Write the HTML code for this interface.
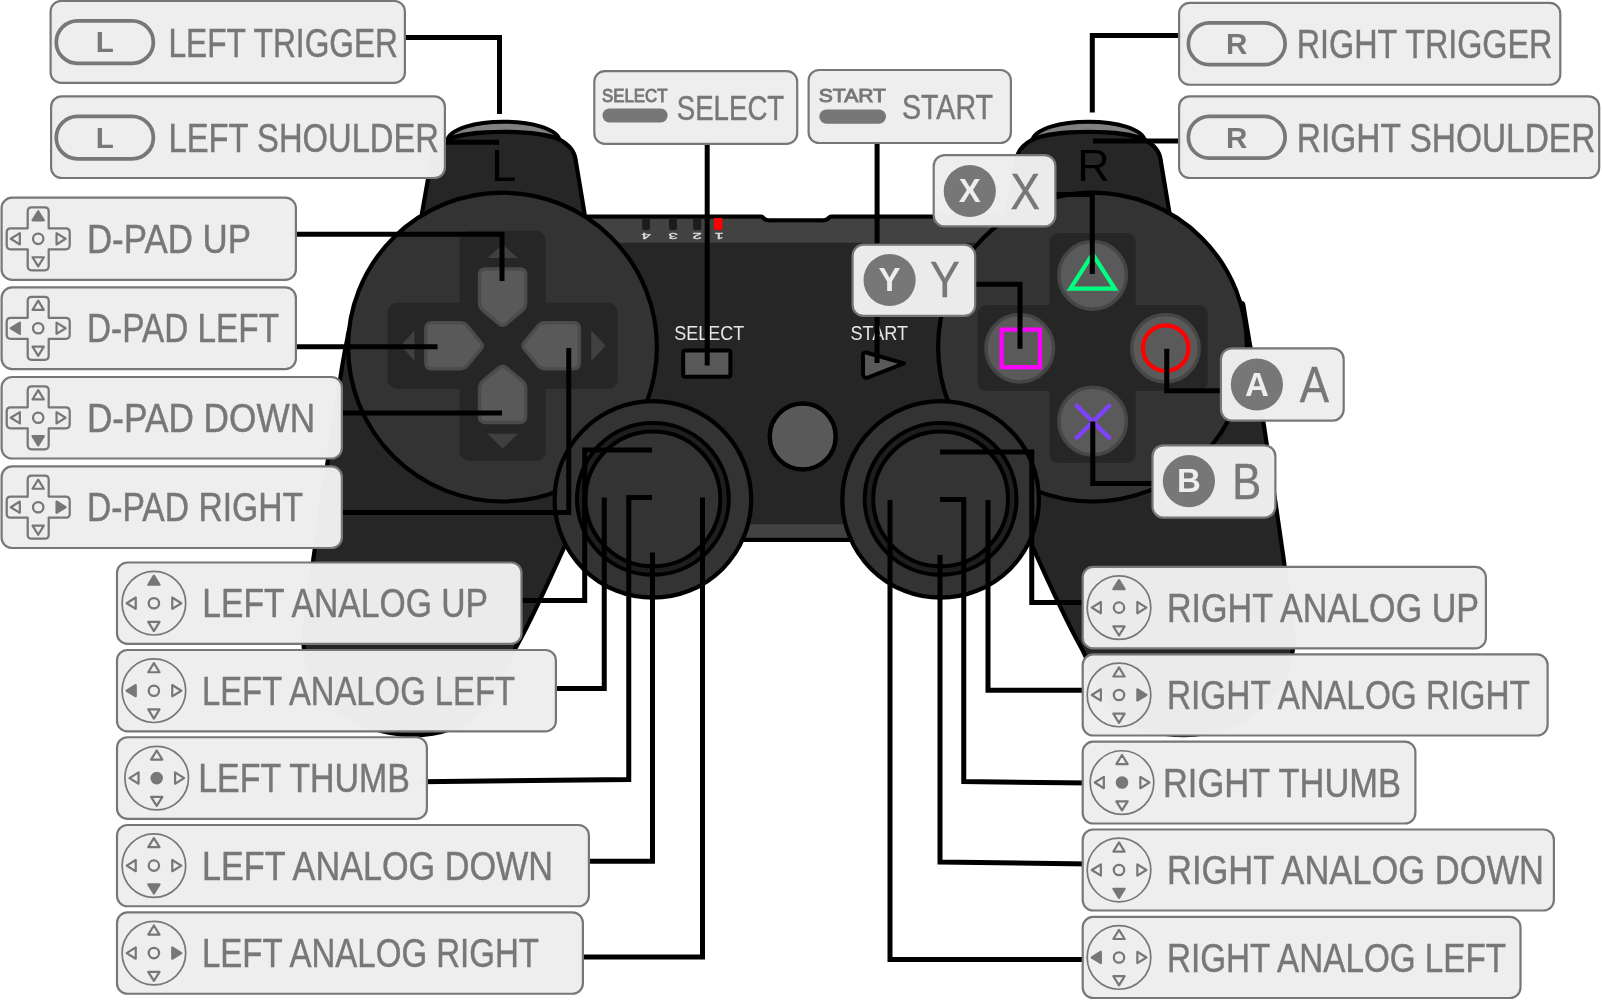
<!DOCTYPE html>
<html><head><meta charset="utf-8"><title>Gamepad mapping</title>
<style>html,body{margin:0;padding:0;background:#ffffff;overflow:hidden;}svg{display:block;will-change:transform;}</style>
</head><body>
<svg width="1602" height="1000" viewBox="0 0 1602 1000">
<rect width="1602" height="1000" fill="#ffffff"/>
<g id="pad">
<path d="M 447,141 C 452,115.3 555,115.3 560,141 Z" fill="#808080" stroke="#000" stroke-width="4" stroke-linejoin="round"/>
<path d="M 1032,141 C 1037,115.3 1140,115.3 1145,141 Z" fill="#808080" stroke="#000" stroke-width="4" stroke-linejoin="round"/>
<path d="M 400,250 C 395,256.67 377.83,277.5 370,290 C 362.17,302.5 356.47,316.67 353,325 C 349.53,333.33 350.75,332.5 349.2,340 C 347.65,347.5 346.9,350 343.7,370 C 340.5,390 334.62,429.17 330,460 C 325.38,490.83 320.12,525.42 316,555 C 311.88,584.58 307.08,623.75 305.3,637.5 A 107.2 95.6 0 0 0 412.5,733.1 C 490,733.1 499.3,672.1 514.3,646.1 Q 530.7,617.1 563.8,543.1 L 625,470 L 480,260 Z" fill="none" stroke="#000" stroke-width="8.4" stroke-linejoin="round"/>
<path d="M 1150,250 L 1180,305 L 1241.2,305 C 1242.38,312 1246.28,336.17 1248.3,347 C 1250.32,357.83 1250.18,351.17 1253.3,370 C 1256.42,388.83 1262.38,429.17 1267,460 C 1271.62,490.83 1276.88,525.42 1281,555 C 1285.12,584.58 1289.92,623.75 1291.7,637.5 A 107.2 95.6 0 0 1 1184.5,733.1 C 1107,733.1 1097.7,672.1 1082.7,646.1 Q 1066.3,617.1 1033.2,543.1 L 972,470 L 1117,260 Z" fill="none" stroke="#000" stroke-width="8.4" stroke-linejoin="round"/>
<path d="M 424,214 L 433.5,160 C 434.5,152 440,146 448.5,141.5 C 470,131.5 537,131.5 558.5,141.5 C 567,146 572.5,152 573.5,160 L 582.5,214 Z" fill="none" stroke="#000" stroke-width="8.4" stroke-linejoin="round"/>
<path d="M 1009,214 L 1018.5,160 C 1019.5,152 1025,146 1033.5,141.5 C 1055,131.5 1122,131.5 1143.5,141.5 C 1152,146 1157.5,152 1158.5,160 L 1167.5,214 Z" fill="none" stroke="#000" stroke-width="8.4" stroke-linejoin="round"/>
<path d="M 470,218.7 L 761,218.7 Q 764,222.5 769,222.5 L 823,222.5 Q 828,222.5 831,218.7 L 1125,218.7 L 1125,537.7 L 470,537.7 Z" fill="none" stroke="#000" stroke-width="8.4" stroke-linejoin="round"/>
<path d="M 400,250 C 395,256.67 377.83,277.5 370,290 C 362.17,302.5 356.47,316.67 353,325 C 349.53,333.33 350.75,332.5 349.2,340 C 347.65,347.5 346.9,350 343.7,370 C 340.5,390 334.62,429.17 330,460 C 325.38,490.83 320.12,525.42 316,555 C 311.88,584.58 307.08,623.75 305.3,637.5 A 107.2 95.6 0 0 0 412.5,733.1 C 490,733.1 499.3,672.1 514.3,646.1 Q 530.7,617.1 563.8,543.1 L 625,470 L 480,260 Z" fill="#262626"/>
<path d="M 1150,250 L 1180,305 L 1241.2,305 C 1242.38,312 1246.28,336.17 1248.3,347 C 1250.32,357.83 1250.18,351.17 1253.3,370 C 1256.42,388.83 1262.38,429.17 1267,460 C 1271.62,490.83 1276.88,525.42 1281,555 C 1285.12,584.58 1289.92,623.75 1291.7,637.5 A 107.2 95.6 0 0 1 1184.5,733.1 C 1107,733.1 1097.7,672.1 1082.7,646.1 Q 1066.3,617.1 1033.2,543.1 L 972,470 L 1117,260 Z" fill="#262626"/>
<path d="M 424,214 L 433.5,160 C 434.5,152 440,146 448.5,141.5 C 470,131.5 537,131.5 558.5,141.5 C 567,146 572.5,152 573.5,160 L 582.5,214 Z" fill="#262626"/>
<path d="M 1009,214 L 1018.5,160 C 1019.5,152 1025,146 1033.5,141.5 C 1055,131.5 1122,131.5 1143.5,141.5 C 1152,146 1157.5,152 1158.5,160 L 1167.5,214 Z" fill="#262626"/>
<path d="M 470,218.7 L 761,218.7 Q 764,222.5 769,222.5 L 823,222.5 Q 828,222.5 831,218.7 L 1125,218.7 L 1125,537.7 L 470,537.7 Z" fill="#262626"/>
<path d="M 470,218.7 L 761,218.7 Q 764,222.5 769,222.5 L 823,222.5 Q 828,222.5 831,218.7 L 1125,218.7 V 242.8 H 470 Z" fill="#424242"/>
<rect x="700" y="524.3" width="200" height="13.4" fill="#424242"/>
<path d="M 642.2,218 V 228 Q 642.2,230 644.2,230 H 648 Q 650,230 650,228 V 218 Z" fill="#1c1c1c"/>
<path d="M 669,218 V 228 Q 669,230 671,230 H 674.9 Q 676.9,230 676.9,228 V 218 Z" fill="#1c1c1c"/>
<path d="M 693.1,218 V 228 Q 693.1,230 695.1,230 H 699.25 Q 701.25,230 701.25,228 V 218 Z" fill="#1c1c1c"/>
<path d="M 714,218 V 228 Q 714,230 716,230 H 720.4 Q 722.4,230 722.4,228 V 218 Z" fill="#ff0000"/>
<text transform="translate(646.1,232.6) rotate(180) scale(1.9,0.95)" x="0" y="0" font-family="Liberation Sans, sans-serif" font-size="8.8" font-weight="normal" fill="#dddddd" stroke="#dddddd" stroke-width="0.35" text-anchor="middle">4</text>
<text transform="translate(673,232.6) rotate(180) scale(1.9,0.95)" x="0" y="0" font-family="Liberation Sans, sans-serif" font-size="8.8" font-weight="normal" fill="#dddddd" stroke="#dddddd" stroke-width="0.35" text-anchor="middle">3</text>
<text transform="translate(697.2,232.6) rotate(180) scale(1.9,0.95)" x="0" y="0" font-family="Liberation Sans, sans-serif" font-size="8.8" font-weight="normal" fill="#dddddd" stroke="#dddddd" stroke-width="0.35" text-anchor="middle">2</text>
<text transform="translate(719,232.6) rotate(180) scale(1.9,0.95)" x="0" y="0" font-family="Liberation Sans, sans-serif" font-size="8.8" font-weight="normal" fill="#dddddd" stroke="#dddddd" stroke-width="0.35" text-anchor="middle">1</text>
<text x="503.75" y="180.6" font-family="Liberation Sans, sans-serif" font-size="45" fill="#000" text-anchor="middle">L</text>
<text x="1093.4" y="180.6" font-family="Liberation Sans, sans-serif" font-size="45" fill="#000" text-anchor="middle">R</text>
<circle cx="502.5" cy="347.1" r="154.4" fill="#333333" stroke="#000" stroke-width="4.2"/>
<circle cx="1092.5" cy="347.1" r="154.4" fill="#333333" stroke="#000" stroke-width="4.2"/>
<rect x="459.6" y="230.75" width="86" height="230" rx="9" fill="#262626"/><rect x="387.6" y="302.75" width="230" height="86" rx="9" fill="#262626"/>
<rect x="1049.6" y="233.1" width="86" height="230" rx="9" fill="#262626"/><rect x="977.6" y="305.1" width="230" height="86" rx="9" fill="#262626"/>
<path d="M 487.4,258 L 517.8,258 L 502.6,244.25 Z" fill="#404040"/>
<path d="M 487.4,433.75 L 517.8,433.75 L 502.6,448.75 Z" fill="#404040"/>
<path d="M 414.5,330.15 L 414.5,361.35 L 401,345.75 Z" fill="#404040"/>
<path d="M 591.2,330.15 L 591.2,361.35 L 605.7,345.75 Z" fill="#404040"/>
<path d="M 479.5,274.95 Q 479.5,268.95 485.5,268.95 L 519.7,268.95 Q 525.7,268.95 525.7,274.95 L 525.7,302.75 Q 525.7,307.75 521.84,310.93 L 506.08,323.89 Q 502.6,326.75 499.12,323.89 L 483.36,310.93 Q 479.5,307.75 479.5,302.75 Z" fill="#595959" stroke="#4b4b4b" stroke-width="3.4" stroke-linejoin="round"/>
<path d="M 573.4,322.65 Q 579.4,322.65 579.4,328.65 L 579.4,362.85 Q 579.4,368.85 573.4,368.85 L 545.6,368.85 Q 540.6,368.85 537.42,364.99 L 524.46,349.23 Q 521.6,345.75 524.46,342.27 L 537.42,326.51 Q 540.6,322.65 545.6,322.65 Z" fill="#595959" stroke="#4b4b4b" stroke-width="3.4" stroke-linejoin="round"/>
<path d="M 525.7,416.55 Q 525.7,422.55 519.7,422.55 L 485.5,422.55 Q 479.5,422.55 479.5,416.55 L 479.5,388.75 Q 479.5,383.75 483.36,380.57 L 499.12,367.61 Q 502.6,364.75 506.08,367.61 L 521.84,380.57 Q 525.7,383.75 525.7,388.75 Z" fill="#595959" stroke="#4b4b4b" stroke-width="3.4" stroke-linejoin="round"/>
<path d="M 431.8,368.85 Q 425.8,368.85 425.8,362.85 L 425.8,328.65 Q 425.8,322.65 431.8,322.65 L 459.6,322.65 Q 464.6,322.65 467.78,326.51 L 480.74,342.27 Q 483.6,345.75 480.74,349.23 L 467.78,364.99 Q 464.6,368.85 459.6,368.85 Z" fill="#595959" stroke="#4b4b4b" stroke-width="3.4" stroke-linejoin="round"/>
<circle cx="1092.6" cy="275.35" r="33.8" fill="#5a5a5a" stroke="#464646" stroke-width="3.5"/>
<circle cx="1019.75" cy="348.2" r="33.8" fill="#5a5a5a" stroke="#464646" stroke-width="3.5"/>
<circle cx="1165.45" cy="348.2" r="33.8" fill="#5a5a5a" stroke="#464646" stroke-width="3.5"/>
<circle cx="1092.6" cy="421.05" r="33.8" fill="#5a5a5a" stroke="#464646" stroke-width="3.5"/>
<path d="M 1092.6,254 L 1114.8,288.6 L 1070.4,288.6 Z" fill="none" stroke="#00ff80" stroke-width="4.2" stroke-linejoin="miter"/>
<rect x="1001.6" y="329.6" width="38.4" height="37.6" fill="none" stroke="#ff00ff" stroke-width="4.2"/>
<circle cx="1165.7" cy="348.2" r="22.8" fill="none" stroke="#ff0000" stroke-width="4.2"/>
<path d="M 1075.5,404.5 L 1110.5,439 M 1110.5,404.5 L 1075.5,439" stroke="#8040ff" stroke-width="4.2"/>
<text x="674.2" y="339.6" font-family="Liberation Sans, sans-serif" font-size="19.5" fill="#e6e6e6" textLength="70" lengthAdjust="spacingAndGlyphs">SELECT</text>
<text x="850.5" y="339.6" font-family="Liberation Sans, sans-serif" font-size="19.5" fill="#e6e6e6" textLength="57.5" lengthAdjust="spacingAndGlyphs">START</text>
<rect x="683.2" y="350.6" width="47.2" height="26.2" rx="2" fill="#595959" stroke="#000" stroke-width="4"/>
<path d="M 866,352.5 Q 862,352 863,358 L 863,373 Q 863,379 868,377.5 L 904,363.4 Z" fill="#595959" stroke="#000" stroke-width="4" stroke-linejoin="round"/>
<circle cx="802.7" cy="436.4" r="33" fill="#595959" stroke="#000" stroke-width="4.5"/>
<circle cx="652.9" cy="499.4" r="98.3" fill="#333333" stroke="#000" stroke-width="4.2"/>
<circle cx="652.9" cy="498.9" r="75.9" fill="#1e1e1e" stroke="#000" stroke-width="4"/>
<circle cx="652.9" cy="498.9" r="67.4" fill="#333333" stroke="#000" stroke-width="4"/>
<circle cx="940.6" cy="499.4" r="98.3" fill="#333333" stroke="#000" stroke-width="4.2"/>
<circle cx="940.6" cy="498.9" r="75.9" fill="#1e1e1e" stroke="#000" stroke-width="4"/>
<circle cx="940.6" cy="498.9" r="67.4" fill="#333333" stroke="#000" stroke-width="4"/>
</g>
<g fill="none" stroke="#000" stroke-width="5" stroke-linejoin="miter">
<path d="M 406,37.5 H 499.5 V 114"/>
<path d="M 440,142.3 H 499"/>
<path d="M 290,234.2 H 502 V 281"/>
<path d="M 290,346.75 H 437.5"/>
<path d="M 336,413 H 502"/>
<path d="M 336,512.5 H 568.75 V 348"/>
<path d="M 707.2,140 V 365.4"/>
<path d="M 877.1,140 V 363"/>
<path d="M 1185,35.5 H 1092.3 V 112.5"/>
<path d="M 1185,141 H 1093"/>
<path d="M 1092.3,274 V 194.5 H 1050"/>
<path d="M 970,284.25 H 1020 V 348.75"/>
<path d="M 1166.75,348.75 V 390.75 H 1225"/>
<path d="M 1092.8,421.5 V 483.4 H 1158"/>
<path d="M 652,450 H 584.7 V 600.5 H 515"/>
<path d="M 604.25,497.5 V 688.6 H 550"/>
<path d="M 652,497.5 H 628.75 V 779.5 L 420,781.7"/>
<path d="M 652.5,552.5 V 861.3 H 583"/>
<path d="M 702.5,497.5 V 957 H 577"/>
<path d="M 940,452 H 1031.75 V 602.5 H 1090"/>
<path d="M 940,499.5 H 963.75 V 781.6 L 1090,783"/>
<path d="M 988,500 V 690.3 H 1090"/>
<path d="M 890,500 V 959.5 H 1090"/>
<path d="M 940,555 V 862 L 1090,864"/>
</g>
<g id="labels">
<rect x="50.6" y="1" width="354.3" height="81.9" rx="10.5" fill="#eeeeee" fill-opacity="0.988" stroke="#777777" stroke-width="2.2"/><rect x="56.27" y="20.88" width="97.1" height="42.5" rx="21.25" fill="none" stroke="#777777" stroke-width="3.75"/><text x="104.83" y="52.2" font-family="Liberation Sans, sans-serif" font-size="29.5" font-weight="bold" fill="#777777" text-anchor="middle">L</text><text x="168.46" y="56.5" font-family="Liberation Sans, sans-serif" font-size="40.7" font-weight="normal" fill="#777777" stroke="#777777" stroke-width="0.45" textLength="229.55" lengthAdjust="spacingAndGlyphs">LEFT TRIGGER</text>
<rect x="51.1" y="96.3" width="393.8" height="81.7" rx="10.5" fill="#eeeeee" fill-opacity="0.988" stroke="#777777" stroke-width="2.2"/><rect x="56.27" y="116.38" width="97.1" height="42.5" rx="21.25" fill="none" stroke="#777777" stroke-width="3.75"/><text x="104.83" y="147.7" font-family="Liberation Sans, sans-serif" font-size="29.5" font-weight="bold" fill="#777777" text-anchor="middle">L</text><text x="168.46" y="152" font-family="Liberation Sans, sans-serif" font-size="40.7" font-weight="normal" fill="#777777" stroke="#777777" stroke-width="0.45" textLength="270.58" lengthAdjust="spacingAndGlyphs">LEFT SHOULDER</text>
<rect x="1179.1" y="2.95" width="381.2" height="81.8" rx="10.5" fill="#eeeeee" fill-opacity="0.988" stroke="#777777" stroke-width="2.2"/><rect x="1188.38" y="22.88" width="96.75" height="41.75" rx="20.88" fill="none" stroke="#777777" stroke-width="3.75"/><text x="1236.75" y="54.2" font-family="Liberation Sans, sans-serif" font-size="29.5" font-weight="bold" fill="#777777" text-anchor="middle">R</text><text x="1296.75" y="57.5" font-family="Liberation Sans, sans-serif" font-size="40.7" font-weight="normal" fill="#777777" stroke="#777777" stroke-width="0.45" textLength="255.67" lengthAdjust="spacingAndGlyphs">RIGHT TRIGGER</text>
<rect x="1179.1" y="96.3" width="420.1" height="81.7" rx="10.5" fill="#eeeeee" fill-opacity="0.988" stroke="#777777" stroke-width="2.2"/><rect x="1188.38" y="116.38" width="96.75" height="41.75" rx="20.88" fill="none" stroke="#777777" stroke-width="3.75"/><text x="1236.75" y="147.7" font-family="Liberation Sans, sans-serif" font-size="29.5" font-weight="bold" fill="#777777" text-anchor="middle">R</text><text x="1296.77" y="151.5" font-family="Liberation Sans, sans-serif" font-size="40.7" font-weight="normal" fill="#777777" stroke="#777777" stroke-width="0.45" textLength="298.57" lengthAdjust="spacingAndGlyphs">RIGHT SHOULDER</text>
<rect x="1.6" y="197.7" width="294.3" height="82.2" rx="10.5" fill="#eeeeee" fill-opacity="0.988" stroke="#777777" stroke-width="2.2"/><path d="M 27.7,211.3 Q 27.7,207.3 31.7,207.3 L 44.7,207.3 Q 48.7,207.3 48.7,211.3 L 48.7,228.3 L 65.7,228.3 Q 69.7,228.3 69.7,232.3 L 69.7,245.3 Q 69.7,249.3 65.7,249.3 L 48.7,249.3 L 48.7,266.3 Q 48.7,270.3 44.7,270.3 L 31.7,270.3 Q 27.7,270.3 27.7,266.3 L 27.7,249.3 L 10.7,249.3 Q 6.7,249.3 6.7,245.3 L 6.7,232.3 Q 6.7,228.3 10.7,228.3 L 27.7,228.3 Z" fill="none" stroke="#777777" stroke-width="2.25" stroke-linejoin="round"/><circle cx="38.2" cy="238.8" r="5.2" fill="none" stroke="#777777" stroke-width="2.25"/><path d="M 38.2,211.25 L 43.85,220.35 L 32.55,220.35 Z" fill="#777777" stroke="#777777" stroke-width="2.2" stroke-linejoin="round"/><path d="M 38.2,266.35 L 43.85,257.25 L 32.55,257.25 Z" fill="none" stroke="#777777" stroke-width="2.2" stroke-linejoin="round"/><path d="M 10.75,238.8 L 19.85,233.15 L 19.85,244.45 Z" fill="none" stroke="#777777" stroke-width="2.2" stroke-linejoin="round"/><path d="M 65.65,238.8 L 56.55,233.15 L 56.55,244.45 Z" fill="none" stroke="#777777" stroke-width="2.2" stroke-linejoin="round"/><text x="86.92" y="253" font-family="Liberation Sans, sans-serif" font-size="40.7" font-weight="normal" fill="#777777" stroke="#777777" stroke-width="0.45" textLength="164.12" lengthAdjust="spacingAndGlyphs">D-PAD UP</text>
<rect x="1.6" y="287.4" width="294.3" height="81.7" rx="10.5" fill="#eeeeee" fill-opacity="0.988" stroke="#777777" stroke-width="2.2"/><path d="M 27.7,300.75 Q 27.7,296.75 31.7,296.75 L 44.7,296.75 Q 48.7,296.75 48.7,300.75 L 48.7,317.75 L 65.7,317.75 Q 69.7,317.75 69.7,321.75 L 69.7,334.75 Q 69.7,338.75 65.7,338.75 L 48.7,338.75 L 48.7,355.75 Q 48.7,359.75 44.7,359.75 L 31.7,359.75 Q 27.7,359.75 27.7,355.75 L 27.7,338.75 L 10.7,338.75 Q 6.7,338.75 6.7,334.75 L 6.7,321.75 Q 6.7,317.75 10.7,317.75 L 27.7,317.75 Z" fill="none" stroke="#777777" stroke-width="2.25" stroke-linejoin="round"/><circle cx="38.2" cy="328.25" r="5.2" fill="none" stroke="#777777" stroke-width="2.25"/><path d="M 38.2,300.7 L 43.85,309.8 L 32.55,309.8 Z" fill="none" stroke="#777777" stroke-width="2.2" stroke-linejoin="round"/><path d="M 38.2,355.8 L 43.85,346.7 L 32.55,346.7 Z" fill="none" stroke="#777777" stroke-width="2.2" stroke-linejoin="round"/><path d="M 10.75,328.25 L 19.85,322.6 L 19.85,333.9 Z" fill="#777777" stroke="#777777" stroke-width="2.2" stroke-linejoin="round"/><path d="M 65.65,328.25 L 56.55,322.6 L 56.55,333.9 Z" fill="none" stroke="#777777" stroke-width="2.2" stroke-linejoin="round"/><text x="86.97" y="342.4" font-family="Liberation Sans, sans-serif" font-size="40.7" font-weight="normal" fill="#777777" stroke="#777777" stroke-width="0.45" textLength="192.04" lengthAdjust="spacingAndGlyphs">D-PAD LEFT</text>
<rect x="1.6" y="377" width="340.3" height="81.5" rx="10.5" fill="#eeeeee" fill-opacity="0.988" stroke="#777777" stroke-width="2.2"/><path d="M 27.7,390.25 Q 27.7,386.25 31.7,386.25 L 44.7,386.25 Q 48.7,386.25 48.7,390.25 L 48.7,407.25 L 65.7,407.25 Q 69.7,407.25 69.7,411.25 L 69.7,424.25 Q 69.7,428.25 65.7,428.25 L 48.7,428.25 L 48.7,445.25 Q 48.7,449.25 44.7,449.25 L 31.7,449.25 Q 27.7,449.25 27.7,445.25 L 27.7,428.25 L 10.7,428.25 Q 6.7,428.25 6.7,424.25 L 6.7,411.25 Q 6.7,407.25 10.7,407.25 L 27.7,407.25 Z" fill="none" stroke="#777777" stroke-width="2.25" stroke-linejoin="round"/><circle cx="38.2" cy="417.75" r="5.2" fill="none" stroke="#777777" stroke-width="2.25"/><path d="M 38.2,390.2 L 43.85,399.3 L 32.55,399.3 Z" fill="none" stroke="#777777" stroke-width="2.2" stroke-linejoin="round"/><path d="M 38.2,445.3 L 43.85,436.2 L 32.55,436.2 Z" fill="#777777" stroke="#777777" stroke-width="2.2" stroke-linejoin="round"/><path d="M 10.75,417.75 L 19.85,412.1 L 19.85,423.4 Z" fill="none" stroke="#777777" stroke-width="2.2" stroke-linejoin="round"/><path d="M 65.65,417.75 L 56.55,412.1 L 56.55,423.4 Z" fill="none" stroke="#777777" stroke-width="2.2" stroke-linejoin="round"/><text x="86.94" y="431.9" font-family="Liberation Sans, sans-serif" font-size="40.7" font-weight="normal" fill="#777777" stroke="#777777" stroke-width="0.45" textLength="228.13" lengthAdjust="spacingAndGlyphs">D-PAD DOWN</text>
<rect x="1.6" y="466.4" width="340.3" height="81.6" rx="10.5" fill="#eeeeee" fill-opacity="0.988" stroke="#777777" stroke-width="2.2"/><path d="M 27.7,479.7 Q 27.7,475.7 31.7,475.7 L 44.7,475.7 Q 48.7,475.7 48.7,479.7 L 48.7,496.7 L 65.7,496.7 Q 69.7,496.7 69.7,500.7 L 69.7,513.7 Q 69.7,517.7 65.7,517.7 L 48.7,517.7 L 48.7,534.7 Q 48.7,538.7 44.7,538.7 L 31.7,538.7 Q 27.7,538.7 27.7,534.7 L 27.7,517.7 L 10.7,517.7 Q 6.7,517.7 6.7,513.7 L 6.7,500.7 Q 6.7,496.7 10.7,496.7 L 27.7,496.7 Z" fill="none" stroke="#777777" stroke-width="2.25" stroke-linejoin="round"/><circle cx="38.2" cy="507.2" r="5.2" fill="none" stroke="#777777" stroke-width="2.25"/><path d="M 38.2,479.65 L 43.85,488.75 L 32.55,488.75 Z" fill="none" stroke="#777777" stroke-width="2.2" stroke-linejoin="round"/><path d="M 38.2,534.75 L 43.85,525.65 L 32.55,525.65 Z" fill="none" stroke="#777777" stroke-width="2.2" stroke-linejoin="round"/><path d="M 10.75,507.2 L 19.85,501.55 L 19.85,512.85 Z" fill="none" stroke="#777777" stroke-width="2.2" stroke-linejoin="round"/><path d="M 65.65,507.2 L 56.55,501.55 L 56.55,512.85 Z" fill="#777777" stroke="#777777" stroke-width="2.2" stroke-linejoin="round"/><text x="86.97" y="521.4" font-family="Liberation Sans, sans-serif" font-size="40.7" font-weight="normal" fill="#777777" stroke="#777777" stroke-width="0.45" textLength="216.03" lengthAdjust="spacingAndGlyphs">D-PAD RIGHT</text>
<rect x="117" y="562.5" width="404.5" height="81.4" rx="10.5" fill="#eeeeee" fill-opacity="0.988" stroke="#777777" stroke-width="2.2"/><circle cx="153.9" cy="603.2" r="31.8" fill="none" stroke="#777777" stroke-width="1.7"/><circle cx="153.9" cy="603.2" r="5.2" fill="none" stroke="#777777" stroke-width="2.25"/><path d="M 153.9,575.65 L 159.55,584.75 L 148.25,584.75 Z" fill="#777777" stroke="#777777" stroke-width="2.2" stroke-linejoin="round"/><path d="M 153.9,631.05 L 159.55,621.95 L 148.25,621.95 Z" fill="none" stroke="#777777" stroke-width="2.2" stroke-linejoin="round"/><path d="M 126.65,603.2 L 135.75,597.55 L 135.75,608.85 Z" fill="none" stroke="#777777" stroke-width="2.2" stroke-linejoin="round"/><path d="M 181.35,603.2 L 172.25,597.55 L 172.25,608.85 Z" fill="none" stroke="#777777" stroke-width="2.2" stroke-linejoin="round"/><text x="202.36" y="617.4" font-family="Liberation Sans, sans-serif" font-size="40.7" font-weight="normal" fill="#777777" stroke="#777777" stroke-width="0.45" textLength="285.66" lengthAdjust="spacingAndGlyphs">LEFT ANALOG UP</text>
<rect x="117" y="650" width="438.9" height="81.4" rx="10.5" fill="#eeeeee" fill-opacity="0.988" stroke="#777777" stroke-width="2.2"/><circle cx="153.9" cy="690.7" r="31.8" fill="none" stroke="#777777" stroke-width="1.7"/><circle cx="153.9" cy="690.7" r="5.2" fill="none" stroke="#777777" stroke-width="2.25"/><path d="M 153.9,663.15 L 159.55,672.25 L 148.25,672.25 Z" fill="none" stroke="#777777" stroke-width="2.2" stroke-linejoin="round"/><path d="M 153.9,718.55 L 159.55,709.45 L 148.25,709.45 Z" fill="none" stroke="#777777" stroke-width="2.2" stroke-linejoin="round"/><path d="M 126.65,690.7 L 135.75,685.05 L 135.75,696.35 Z" fill="#777777" stroke="#777777" stroke-width="2.2" stroke-linejoin="round"/><path d="M 181.35,690.7 L 172.25,685.05 L 172.25,696.35 Z" fill="none" stroke="#777777" stroke-width="2.2" stroke-linejoin="round"/><text x="201.98" y="704.9" font-family="Liberation Sans, sans-serif" font-size="40.7" font-weight="normal" fill="#777777" stroke="#777777" stroke-width="0.45" textLength="313.04" lengthAdjust="spacingAndGlyphs">LEFT ANALOG LEFT</text>
<rect x="117" y="737.25" width="309.9" height="81.65" rx="10.5" fill="#eeeeee" fill-opacity="0.988" stroke="#777777" stroke-width="2.2"/><circle cx="156.7" cy="778.08" r="31.8" fill="none" stroke="#777777" stroke-width="1.7"/><circle cx="156.7" cy="778.08" r="6.3" fill="#777777"/><path d="M 156.7,750.53 L 162.35,759.62 L 151.05,759.62 Z" fill="none" stroke="#777777" stroke-width="2.2" stroke-linejoin="round"/><path d="M 156.7,805.92 L 162.35,796.83 L 151.05,796.83 Z" fill="none" stroke="#777777" stroke-width="2.2" stroke-linejoin="round"/><path d="M 129.45,778.08 L 138.55,772.43 L 138.55,783.73 Z" fill="none" stroke="#777777" stroke-width="2.2" stroke-linejoin="round"/><path d="M 184.15,778.08 L 175.05,772.43 L 175.05,783.73 Z" fill="none" stroke="#777777" stroke-width="2.2" stroke-linejoin="round"/><text x="198.16" y="792.3" font-family="Liberation Sans, sans-serif" font-size="40.7" font-weight="normal" fill="#777777" stroke="#777777" stroke-width="0.45" textLength="211.86" lengthAdjust="spacingAndGlyphs">LEFT THUMB</text>
<rect x="117" y="825" width="471.9" height="81.25" rx="10.5" fill="#eeeeee" fill-opacity="0.988" stroke="#777777" stroke-width="2.2"/><circle cx="153.9" cy="865.62" r="31.8" fill="none" stroke="#777777" stroke-width="1.7"/><circle cx="153.9" cy="865.62" r="5.2" fill="none" stroke="#777777" stroke-width="2.25"/><path d="M 153.9,838.08 L 159.55,847.17 L 148.25,847.17 Z" fill="none" stroke="#777777" stroke-width="2.2" stroke-linejoin="round"/><path d="M 153.9,893.47 L 159.55,884.38 L 148.25,884.38 Z" fill="#777777" stroke="#777777" stroke-width="2.2" stroke-linejoin="round"/><path d="M 126.65,865.62 L 135.75,859.98 L 135.75,871.27 Z" fill="none" stroke="#777777" stroke-width="2.2" stroke-linejoin="round"/><path d="M 181.35,865.62 L 172.25,859.98 L 172.25,871.27 Z" fill="none" stroke="#777777" stroke-width="2.2" stroke-linejoin="round"/><text x="201.96" y="879.8" font-family="Liberation Sans, sans-serif" font-size="40.7" font-weight="normal" fill="#777777" stroke="#777777" stroke-width="0.45" textLength="351.08" lengthAdjust="spacingAndGlyphs">LEFT ANALOG DOWN</text>
<rect x="117" y="912.4" width="465.9" height="81.35" rx="10.5" fill="#eeeeee" fill-opacity="0.988" stroke="#777777" stroke-width="2.2"/><circle cx="153.9" cy="953.08" r="31.8" fill="none" stroke="#777777" stroke-width="1.7"/><circle cx="153.9" cy="953.08" r="5.2" fill="none" stroke="#777777" stroke-width="2.25"/><path d="M 153.9,925.53 L 159.55,934.62 L 148.25,934.62 Z" fill="none" stroke="#777777" stroke-width="2.2" stroke-linejoin="round"/><path d="M 153.9,980.92 L 159.55,971.83 L 148.25,971.83 Z" fill="none" stroke="#777777" stroke-width="2.2" stroke-linejoin="round"/><path d="M 126.65,953.08 L 135.75,947.43 L 135.75,958.73 Z" fill="none" stroke="#777777" stroke-width="2.2" stroke-linejoin="round"/><path d="M 181.35,953.08 L 172.25,947.43 L 172.25,958.73 Z" fill="#777777" stroke="#777777" stroke-width="2.2" stroke-linejoin="round"/><text x="201.98" y="967.3" font-family="Liberation Sans, sans-serif" font-size="40.7" font-weight="normal" fill="#777777" stroke="#777777" stroke-width="0.45" textLength="337.03" lengthAdjust="spacingAndGlyphs">LEFT ANALOG RIGHT</text>
<rect x="1082.7" y="566.9" width="403.2" height="81.5" rx="10.5" fill="#eeeeee" fill-opacity="0.988" stroke="#777777" stroke-width="2.2"/><circle cx="1119" cy="607.65" r="31.8" fill="none" stroke="#777777" stroke-width="1.7"/><circle cx="1119" cy="607.65" r="5.2" fill="none" stroke="#777777" stroke-width="2.25"/><path d="M 1119,580.1 L 1124.65,589.2 L 1113.35,589.2 Z" fill="#777777" stroke="#777777" stroke-width="2.2" stroke-linejoin="round"/><path d="M 1119,635.5 L 1124.65,626.4 L 1113.35,626.4 Z" fill="none" stroke="#777777" stroke-width="2.2" stroke-linejoin="round"/><path d="M 1091.75,607.65 L 1100.85,602 L 1100.85,613.3 Z" fill="none" stroke="#777777" stroke-width="2.2" stroke-linejoin="round"/><path d="M 1146.45,607.65 L 1137.35,602 L 1137.35,613.3 Z" fill="none" stroke="#777777" stroke-width="2.2" stroke-linejoin="round"/><text x="1166.96" y="621.9" font-family="Liberation Sans, sans-serif" font-size="40.7" font-weight="normal" fill="#777777" stroke="#777777" stroke-width="0.45" textLength="312.08" lengthAdjust="spacingAndGlyphs">RIGHT ANALOG UP</text>
<rect x="1082.7" y="654.4" width="464.9" height="81.1" rx="10.5" fill="#eeeeee" fill-opacity="0.988" stroke="#777777" stroke-width="2.2"/><circle cx="1119" cy="694.95" r="31.8" fill="none" stroke="#777777" stroke-width="1.7"/><circle cx="1119" cy="694.95" r="5.2" fill="none" stroke="#777777" stroke-width="2.25"/><path d="M 1119,667.4 L 1124.65,676.5 L 1113.35,676.5 Z" fill="none" stroke="#777777" stroke-width="2.2" stroke-linejoin="round"/><path d="M 1119,722.8 L 1124.65,713.7 L 1113.35,713.7 Z" fill="none" stroke="#777777" stroke-width="2.2" stroke-linejoin="round"/><path d="M 1091.75,694.95 L 1100.85,689.3 L 1100.85,700.6 Z" fill="none" stroke="#777777" stroke-width="2.2" stroke-linejoin="round"/><path d="M 1146.45,694.95 L 1137.35,689.3 L 1137.35,700.6 Z" fill="#777777" stroke="#777777" stroke-width="2.2" stroke-linejoin="round"/><text x="1166.98" y="709.2" font-family="Liberation Sans, sans-serif" font-size="40.7" font-weight="normal" fill="#777777" stroke="#777777" stroke-width="0.45" textLength="363.03" lengthAdjust="spacingAndGlyphs">RIGHT ANALOG RIGHT</text>
<rect x="1082.7" y="741.6" width="332.7" height="81.9" rx="10.5" fill="#eeeeee" fill-opacity="0.988" stroke="#777777" stroke-width="2.2"/><circle cx="1122" cy="782.55" r="31.8" fill="none" stroke="#777777" stroke-width="1.7"/><circle cx="1122" cy="782.55" r="6.3" fill="#777777"/><path d="M 1122,755 L 1127.65,764.1 L 1116.35,764.1 Z" fill="none" stroke="#777777" stroke-width="2.2" stroke-linejoin="round"/><path d="M 1122,810.4 L 1127.65,801.3 L 1116.35,801.3 Z" fill="none" stroke="#777777" stroke-width="2.2" stroke-linejoin="round"/><path d="M 1094.75,782.55 L 1103.85,776.9 L 1103.85,788.2 Z" fill="none" stroke="#777777" stroke-width="2.2" stroke-linejoin="round"/><path d="M 1149.45,782.55 L 1140.35,776.9 L 1140.35,788.2 Z" fill="none" stroke="#777777" stroke-width="2.2" stroke-linejoin="round"/><text x="1162.97" y="796.8" font-family="Liberation Sans, sans-serif" font-size="40.7" font-weight="normal" fill="#777777" stroke="#777777" stroke-width="0.45" textLength="238.06" lengthAdjust="spacingAndGlyphs">RIGHT THUMB</text>
<rect x="1082.7" y="829.5" width="471.2" height="81" rx="10.5" fill="#eeeeee" fill-opacity="0.988" stroke="#777777" stroke-width="2.2"/><circle cx="1119" cy="870" r="31.8" fill="none" stroke="#777777" stroke-width="1.7"/><circle cx="1119" cy="870" r="5.2" fill="none" stroke="#777777" stroke-width="2.25"/><path d="M 1119,842.45 L 1124.65,851.55 L 1113.35,851.55 Z" fill="none" stroke="#777777" stroke-width="2.2" stroke-linejoin="round"/><path d="M 1119,897.85 L 1124.65,888.75 L 1113.35,888.75 Z" fill="#777777" stroke="#777777" stroke-width="2.2" stroke-linejoin="round"/><path d="M 1091.75,870 L 1100.85,864.35 L 1100.85,875.65 Z" fill="none" stroke="#777777" stroke-width="2.2" stroke-linejoin="round"/><path d="M 1146.45,870 L 1137.35,864.35 L 1137.35,875.65 Z" fill="none" stroke="#777777" stroke-width="2.2" stroke-linejoin="round"/><text x="1166.97" y="884.2" font-family="Liberation Sans, sans-serif" font-size="40.7" font-weight="normal" fill="#777777" stroke="#777777" stroke-width="0.45" textLength="377.07" lengthAdjust="spacingAndGlyphs">RIGHT ANALOG DOWN</text>
<rect x="1082.7" y="916.9" width="437.8" height="81.1" rx="10.5" fill="#eeeeee" fill-opacity="0.988" stroke="#777777" stroke-width="2.2"/><circle cx="1119" cy="957.45" r="31.8" fill="none" stroke="#777777" stroke-width="1.7"/><circle cx="1119" cy="957.45" r="5.2" fill="none" stroke="#777777" stroke-width="2.25"/><path d="M 1119,929.9 L 1124.65,939 L 1113.35,939 Z" fill="none" stroke="#777777" stroke-width="2.2" stroke-linejoin="round"/><path d="M 1119,985.3 L 1124.65,976.2 L 1113.35,976.2 Z" fill="none" stroke="#777777" stroke-width="2.2" stroke-linejoin="round"/><path d="M 1091.75,957.45 L 1100.85,951.8 L 1100.85,963.1 Z" fill="#777777" stroke="#777777" stroke-width="2.2" stroke-linejoin="round"/><path d="M 1146.45,957.45 L 1137.35,951.8 L 1137.35,963.1 Z" fill="none" stroke="#777777" stroke-width="2.2" stroke-linejoin="round"/><text x="1166.98" y="971.7" font-family="Liberation Sans, sans-serif" font-size="40.7" font-weight="normal" fill="#777777" stroke="#777777" stroke-width="0.45" textLength="339.03" lengthAdjust="spacingAndGlyphs">RIGHT ANALOG LEFT</text>
<rect x="594.3" y="71.1" width="202.9" height="72.7" rx="10.5" fill="#eeeeee" fill-opacity="0.988" stroke="#777777" stroke-width="2.2"/>
<text x="601.96" y="102" font-family="Liberation Sans, sans-serif" font-size="18.2" font-weight="normal" fill="#777777" stroke="#777777" stroke-width="0.9" textLength="65.66" lengthAdjust="spacingAndGlyphs">SELECT</text>
<rect x="602.5" y="108.6" width="65.1" height="13.8" rx="6.9" fill="#777777"/>
<text x="676.75" y="119.8" font-family="Liberation Sans, sans-serif" font-size="35.2" font-weight="normal" fill="#777777" stroke="#777777" stroke-width="0.45" textLength="107.46" lengthAdjust="spacingAndGlyphs">SELECT</text>
<rect x="808.6" y="70" width="202.3" height="73" rx="10.5" fill="#eeeeee" fill-opacity="0.988" stroke="#777777" stroke-width="2.2"/>
<text x="818.74" y="102" font-family="Liberation Sans, sans-serif" font-size="18.2" font-weight="normal" fill="#777777" stroke="#777777" stroke-width="0.9" textLength="67.26" lengthAdjust="spacingAndGlyphs">START</text>
<rect x="819.3" y="109.4" width="66.7" height="14.4" rx="7.2" fill="#777777"/>
<text x="901.97" y="119.3" font-family="Liberation Sans, sans-serif" font-size="35.2" font-weight="normal" fill="#777777" stroke="#777777" stroke-width="0.45" textLength="91.03" lengthAdjust="spacingAndGlyphs">START</text>
<rect x="933.7" y="155.1" width="121.7" height="71.3" rx="11" fill="#eeeeee" fill-opacity="0.988" stroke="#777777" stroke-width="2.2"/><circle cx="969.8" cy="191" r="26.1" fill="#777777"/><text x="969.8" y="202.2" font-family="Liberation Sans, sans-serif" font-size="33" font-weight="bold" fill="#eeeeee" text-anchor="middle">X</text><text x="1010.43" y="208.6" font-family="Liberation Sans, sans-serif" font-size="49.4" font-weight="normal" fill="#777777" stroke="#777777" stroke-width="0.45" textLength="29.46" lengthAdjust="spacingAndGlyphs">X</text>
<rect x="852.6" y="244.7" width="122.6" height="71.2" rx="11" fill="#eeeeee" fill-opacity="0.988" stroke="#777777" stroke-width="2.2"/><circle cx="889.6" cy="280" r="26.1" fill="#777777"/><text x="889.6" y="291.2" font-family="Liberation Sans, sans-serif" font-size="33" font-weight="bold" fill="#eeeeee" text-anchor="middle">Y</text><text x="929.92" y="297.4" font-family="Liberation Sans, sans-serif" font-size="49.4" font-weight="normal" fill="#777777" stroke="#777777" stroke-width="0.45" textLength="29.79" lengthAdjust="spacingAndGlyphs">Y</text>
<rect x="1220.9" y="348.3" width="122.8" height="72.3" rx="11" fill="#eeeeee" fill-opacity="0.988" stroke="#777777" stroke-width="2.2"/><circle cx="1256.9" cy="384.5" r="26.1" fill="#777777"/><text x="1256.9" y="395.7" font-family="Liberation Sans, sans-serif" font-size="33" font-weight="bold" fill="#eeeeee" text-anchor="middle">A</text><text x="1299.76" y="401.8" font-family="Liberation Sans, sans-serif" font-size="49.4" font-weight="normal" fill="#777777" stroke="#777777" stroke-width="0.45" textLength="29.26" lengthAdjust="spacingAndGlyphs">A</text>
<rect x="1152.5" y="445.3" width="122.9" height="72.3" rx="11" fill="#eeeeee" fill-opacity="0.988" stroke="#777777" stroke-width="2.2"/><circle cx="1188.9" cy="481.1" r="26.1" fill="#777777"/><text x="1188.9" y="492.3" font-family="Liberation Sans, sans-serif" font-size="33" font-weight="bold" fill="#eeeeee" text-anchor="middle">B</text><text x="1232.26" y="498.7" font-family="Liberation Sans, sans-serif" font-size="49.4" font-weight="normal" fill="#777777" stroke="#777777" stroke-width="0.45" textLength="28.92" lengthAdjust="spacingAndGlyphs">B</text>
</g>
</svg>
</body></html>
